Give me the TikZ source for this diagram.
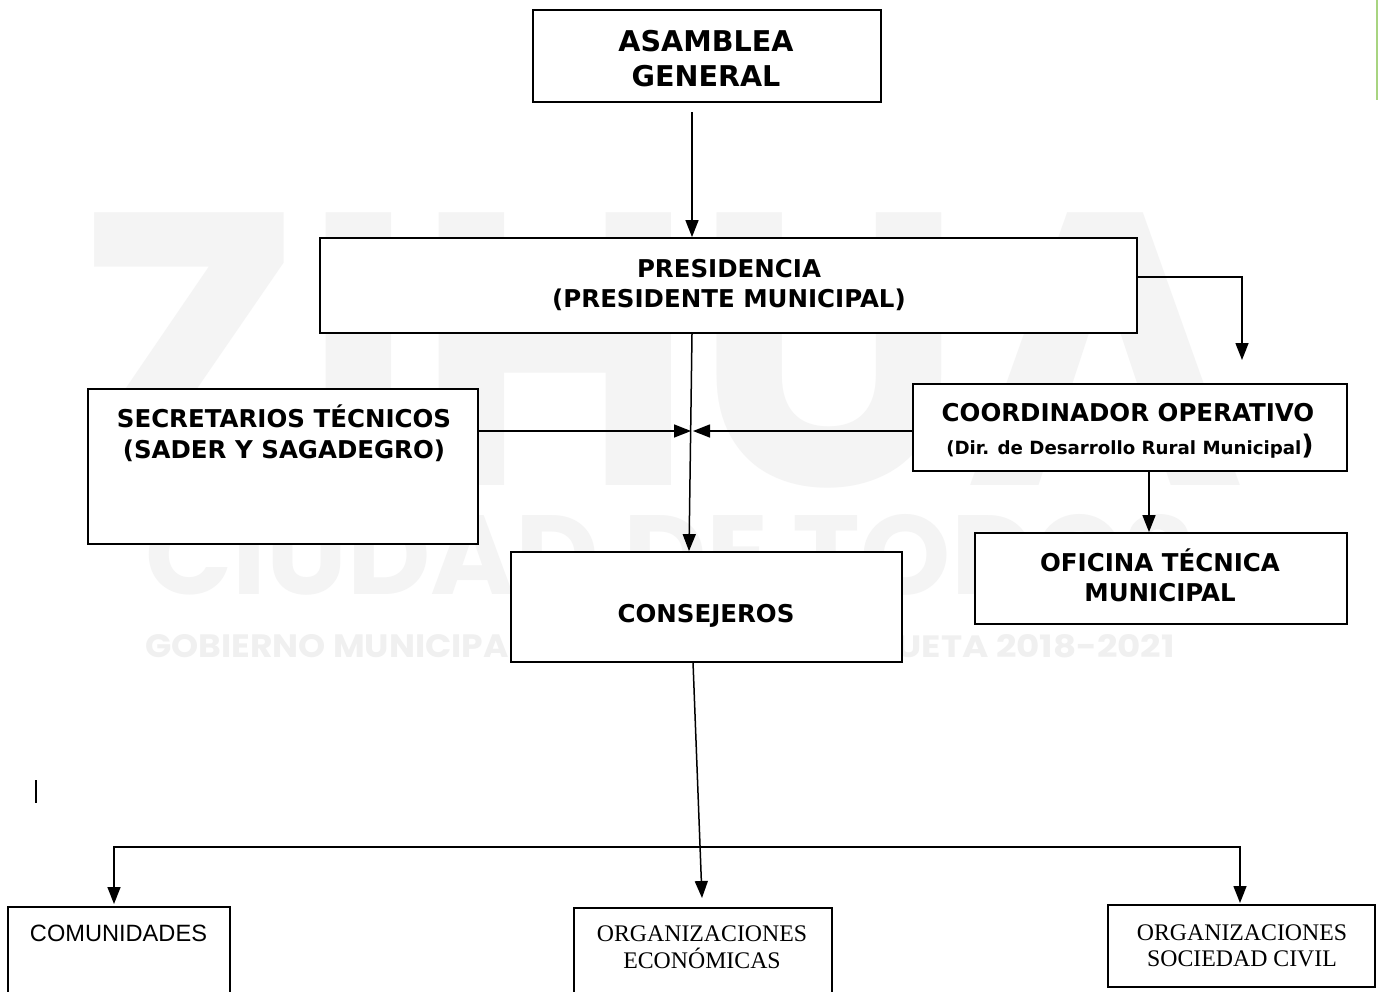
\documentclass[tikz,border=0pt]{standalone}
\usepackage{graphicx}
\usepackage{fontspec}
\usetikzlibrary{arrows.meta}
\newfontfamily\vfont{DejaVu Sans}
\newfontfamily\afont{Liberation Sans}
\newfontfamily\tfont{Liberation Serif}
\newfontfamily\wmfont{Poppins}
\definecolor{wmgray}{gray}{0.955}
\definecolor{wmgrayb}{gray}{0.94}
\definecolor{edgegreen}{RGB}{168,212,128}
\tikzset{
  box/.style={draw=black, line width=1.8pt, fill=white, inner sep=0pt},
  conn/.style={line width=1.5pt, draw=black},
  arr/.style={conn, -{Triangle[length=17pt,width=13pt]}},
  arrboth/.style={conn, {Triangle[length=17pt,width=13pt]}-{Triangle[length=17pt,width=13pt]}},
  hdA/.style={font=\vfont\bfseries\fontsize{28.6}{34}\selectfont, anchor=base, inner sep=0pt},
  hd/.style={font=\vfont\bfseries\fontsize{24.5}{29}\selectfont, anchor=base, inner sep=0pt},
  hds/.style={font=\vfont\bfseries\fontsize{18.2}{22}\selectfont, anchor=base, inner sep=0pt},
  ar/.style={font=\afont\fontsize{23.6}{28}\selectfont, anchor=base, inner sep=0pt},
  tr/.style={font=\tfont\fontsize{23.8}{28}\selectfont, anchor=base, inner sep=0pt},
  wm/.style={font=\wmfont\bfseries, text=wmgray, inner sep=0pt},
}
\begin{document}
\begin{tikzpicture}[x=1pt,y=-1pt]
\useasboundingbox (0,0) rectangle (1378,991);
\clip (0,0) rectangle (1378,991);
\fill[white] (0,0) rectangle (1378,991);

% watermark
\node[wm, anchor=base west] (wmz) at (75,485) {\resizebox{1170pt}{272pt}{ZIHUA}};
\node[wm, anchor=base west] (wmc) at (145,594) {\resizebox{1050pt}{80pt}{CIUDAD DE TODOS}};
\node[wm, text=wmgrayb, anchor=base west] (wmg1) at (145,657) {\resizebox{380pt}{23pt}{GOBIERNO MUNICIPAL}};
\node[wm, text=wmgrayb, anchor=base east] (wmg2) at (1175,657) {\resizebox{326pt}{23pt}{AZUETA 2018-2021}};

% green edge
\draw[edgegreen, line width=2pt] (1377,0) -- (1377,100);

% boxes
\node[box, minimum width=348pt, minimum height=92pt] (asm) at (707,56) {};
\node[box, minimum width=817pt, minimum height=95pt] (pres) at (728.5,285.5) {};
\node[box, minimum width=390pt, minimum height=155pt] (sec) at (283,466.5) {};
\node[box, minimum width=434pt, minimum height=87pt] (coord) at (1130,427.5) {};
\node[box, minimum width=372pt, minimum height=91pt] (ofi) at (1161,578.5) {};
\node[box, minimum width=391pt, minimum height=110pt] (cons) at (706.5,607) {};
\node[box, minimum width=222pt, minimum height=103pt] (com) at (119,958.5) {};
\node[box, minimum width=258pt, minimum height=102pt] (econ) at (703,959) {};
\node[box, minimum width=267pt, minimum height=82pt] (soc) at (1241.5,946) {};

% texts
\node[hdA] (asmt1) at (706,51) {ASAMBLEA};
\node[hdA] (asmt2) at (706,86) {GENERAL};
\node[hd] (prest1) at (729,277) {PRESIDENCIA};
\node[hd] (prest2) at (729,307) {(PRESIDENTE MUNICIPAL)};
\node[hd] (sect1) at (284,427) {SECRETARIOS TÉCNICOS};
\node[hd] (sect2) at (284,458) {(SADER Y SAGADEGRO)};
\node[hd] (coot1) at (1128,421) {COORDINADOR OPERATIVO};
\node[hds] (coot2) at (1130,454) {(Dir. de Desarrollo Rural Municipal{\fontsize{27}{27}\selectfont)}};
\node[hd] (ofit1) at (1160,571) {OFICINA TÉCNICA};
\node[hd] (ofit2) at (1160,601) {MUNICIPAL};
\node[hd] (const) at (706,622) {CONSEJEROS};
\node[ar] (comt) at (118.5,941.5) {COMUNIDADES};
\node[tr] (econt1) at (702,941) {ORGANIZACIONES};
\node[tr] (econt2) at (702,968) {ECONÓMICAS};
\node[tr] (soct1) at (1242,940) {ORGANIZACIONES};
\node[tr] (soct2) at (1242,966) {SOCIEDAD CIVIL};

% connector coordinates
\coordinate (t1) at (692,112);
\coordinate (c2) at (689,0);
\coordinate (c0) at (0,277);
\coordinate (c1) at (1242,360);
\coordinate (c3) at (1149,0);
\coordinate (midL) at (691,431);
\coordinate (midR) at (693,431);
\coordinate (e0) at (693,662);
\coordinate (e1) at (702,898);
\coordinate (bl) at (114,847);
\coordinate (br) at (1240,847);
\coordinate (comtip) at (114,904);
\coordinate (soctip) at (1240,903);

% connectors
\draw[arr] (t1) -- (t1 |- pres.north);
\draw[arr] (pres.south -| t1) -- (cons.north -| c2);
\draw[arr] (pres.east |- c0) -| (c1);
\draw[arr] (sec.east |- midL) -- (midL);
\draw[arr] (coord.west |- midR) -- (midR);
\draw[arr] (coord.south -| c3) -- (ofi.north -| c3);
\draw[arr] (e0) -- (e1);
\draw[arrboth] (comtip) -- (bl) -- (br) -- (soctip);
\draw[line width=1.3pt] (36,780) -- (36,803);
\end{tikzpicture}
\end{document}
